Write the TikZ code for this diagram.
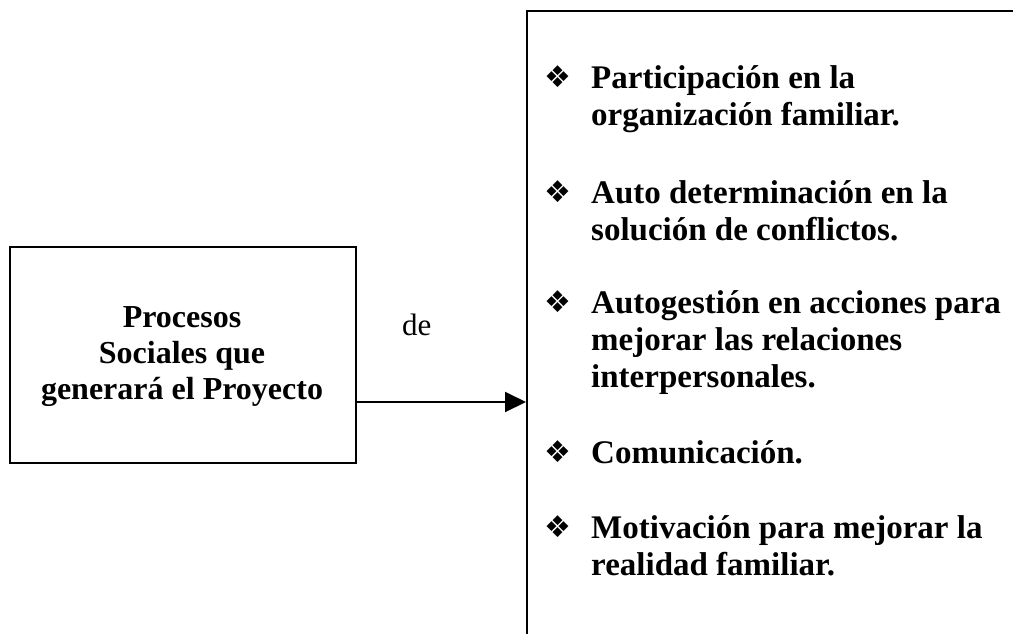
\documentclass[tikz,border=0pt]{standalone}
\usepackage{fontspec}
\setmainfont{Liberation Serif}
\newfontfamily\symfont{DejaVu Sans}
\usetikzlibrary{arrows.meta}
\newcommand\twolines[2]{\vtop{\hbox{#1}\hbox{#2}}}
\newcommand\threelines[3]{\vtop{\hbox{#1}\hbox{#2}\hbox{#3}}}
\begin{document}
\begin{tikzpicture}[x=1pt,y=-1pt,
  box/.style={draw, line width=2.2pt, inner sep=0pt},
  item/.style={anchor=base west, inner sep=0pt, font=\bfseries\fontsize{33}{37}\selectfont},
  bul/.style={inner sep=0pt, font=\symfont\fontsize{30}{30}\selectfont},
  conn/.style={line width=2pt, -{Triangle[length=21pt,width=20pt]}},
]
\useasboundingbox (0,0) rectangle (1013,633);
\clip (0,0) rectangle (1013,633);
% left box
\node[box, minimum width=346pt, minimum height=216pt, anchor=north west] (L) at (9,246) {};
\node[anchor=base, inner sep=0pt, font=\bfseries\fontsize{32}{36}\selectfont] (lt) at (182,327)
  {\vtop{\halign{\hfil#\hfil\cr Procesos\cr Sociales que\cr generará el Proyecto\cr}}};
% right box (extends beyond the page)
\node[box, minimum width=600pt, minimum height=700pt, anchor=north west] (R) at (526,10) {};
% connector
\coordinate (ay) at (0,402);
\draw[conn] (L.east |- ay) -- (R.west |- ay);
\node[anchor=base west, inner sep=0pt, font=\fontsize{31}{31}\selectfont] (de) at (402,335) {de};
% items
\node[bul] (b1) at (558,77) {❖};
\node[item] (i1) at (591,88) {\twolines{Participación en la}{organización familiar.}};
\node[bul] (b2) at (558,192) {❖};
\node[item] (i2) at (591,203) {\twolines{Auto determinación en la}{solución de conflictos.}};
\node[bul] (b3) at (558,302) {❖};
\node[item] (i3) at (591,313) {\threelines{Autogestión en acciones para}{mejorar las relaciones}{interpersonales.}};
\node[bul] (b4) at (558,452) {❖};
\node[item] (i4) at (591,463) {Comunicación.};
\node[bul] (b5) at (558,527) {❖};
\node[item] (i5) at (591,538) {\twolines{Motivación para mejorar la}{realidad familiar.}};
\end{tikzpicture}
\end{document}
